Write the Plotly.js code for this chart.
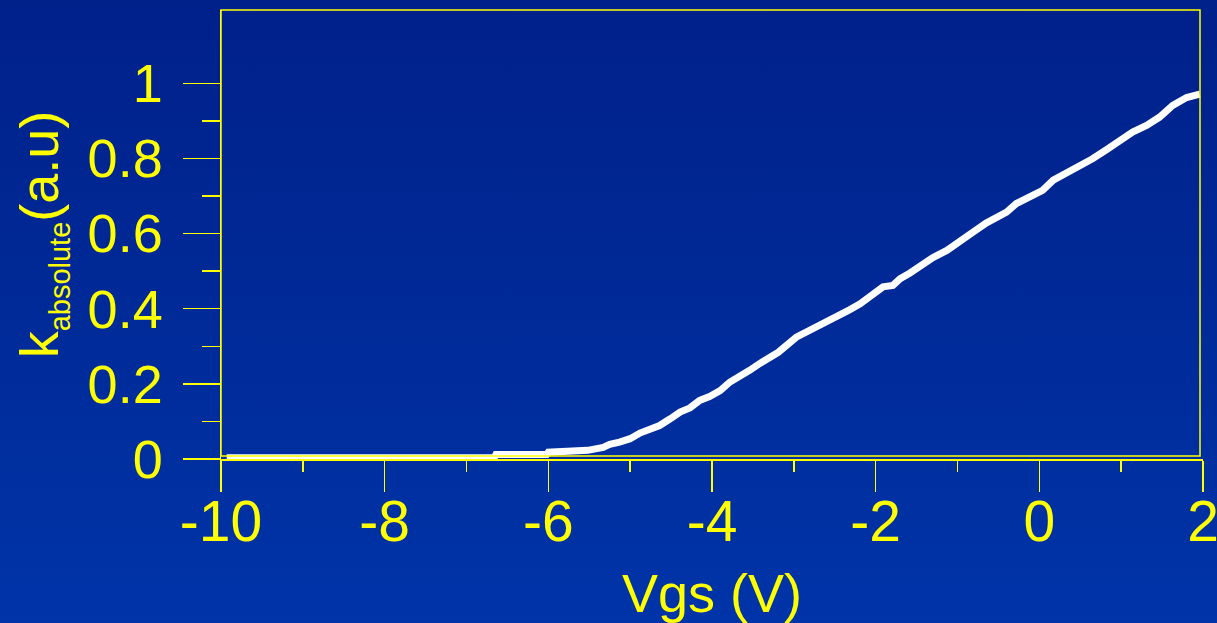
<!DOCTYPE html>
<html>
<head>
<meta charset="utf-8">
<script src="https://cdn.plot.ly/plotly-3.0.1.min.js"></script>
<style>
  html, body { margin: 0; padding: 0; width: 1217px; height: 623px; overflow: hidden;
    background: linear-gradient(to bottom, #00208a 0%, #002a98 50%, #0034a8 100%); }
  #chart { width: 1217px; height: 623px; }
</style>
</head>
<body>
<div id="chart"></div>
<script>
// Vgs (V)
const vgs = [-9.93, -6.66, -6.64, -6.02, -6.00, -5.71, -5.52, -5.33, -5.25, -5.13,
  -5.00, -4.88, -4.76, -4.64, -4.51, -4.39, -4.27, -4.15, -4.03, -3.90,
  -3.78, -3.66, -3.54, -3.41, -3.29, -3.19, -2.97, -2.80, -2.65, -2.48,
  -2.32, -2.19, -2.07, -1.91, -1.79, -1.70, -1.58, -1.46, -1.30, -1.13,
  -0.97, -0.81, -0.65, -0.51, -0.40, -0.28, -0.12, 0.04, 0.17, 0.33,
  0.49, 0.65, 0.82, 0.98, 1.14, 1.31, 1.47, 1.63, 1.80, 1.96];
// k absolute (a.u)
const kAbs = [0.003, 0.003, 0.012, 0.012, 0.018, 0.020, 0.023, 0.031, 0.039, 0.045,
  0.054, 0.069, 0.078, 0.089, 0.107, 0.125, 0.136, 0.156, 0.166, 0.182,
  0.205, 0.218, 0.236, 0.255, 0.271, 0.284, 0.324, 0.342, 0.358, 0.378,
  0.397, 0.413, 0.431, 0.458, 0.462, 0.480, 0.495, 0.515, 0.536, 0.555,
  0.577, 0.604, 0.628, 0.644, 0.657, 0.680, 0.699, 0.715, 0.742, 0.761,
  0.777, 0.799, 0.823, 0.848, 0.870, 0.888, 0.910, 0.941, 0.962, 0.971];

const xTickVals = [-10, -8, -6, -4, -2, 0, 2];
const xTickText = ['-10', '-8', '-6', '-4', '-2', '0', '2'];
const xMinorVals = [-9, -7, -5, -3, -1, 1];
const yTickVals = [0, 0.2, 0.4, 0.6, 0.8, 1];
const yTickText = ['0', '0.2', '0.4', '0.6', '0.8', '1'];
const yMinorVals = [0.1, 0.3, 0.5, 0.7, 0.9];

const YEL = '#ffff00';
const FONT = 'Liberation Sans, Arial, sans-serif';

const trace = {
  x: vgs, y: kAbs, type: 'scatter', mode: 'lines',
  line: { color: '#ffffff', width: 7 },
  hoverinfo: 'skip', showlegend: false
};

const layout = {
  width: 1217, height: 623,
  paper_bgcolor: 'rgba(0,0,0,0)', plot_bgcolor: 'rgba(0,0,0,0)',
  margin: { l: 221, r: 14, t: 10, b: 164 },
  font: { family: FONT, color: YEL },
  showlegend: false,
  xaxis: {
    range: [-10, 2.0001], showgrid: false, zeroline: false,
    showline: true, linecolor: YEL, linewidth: 1.5,
    ticks: 'outside', ticklen: 31, tickwidth: 1.5, tickcolor: YEL,
    tickvals: xTickVals, ticktext: xTickText,
    ticklabeloverflow: 'allow', ticklabelstandoff: -19,
    tickfont: { family: FONT, size: 57, color: YEL },
    minor: { tickvals: xMinorVals, ticks: 'outside', ticklen: 11, tickwidth: 1.5, tickcolor: YEL, showgrid: false },
    title: { text: 'Vgs (V)', font: { family: FONT, size: 54, color: YEL }, standoff: 24 }
  },
  yaxis: {
    range: [0, 1.195], showgrid: false, zeroline: false,
    showline: true, linecolor: YEL, linewidth: 1.5,
    ticks: 'outside', ticklen: 37, tickwidth: 1.5, tickcolor: YEL,
    tickvals: yTickVals, ticktext: yTickText,
    ticklabelstandoff: 9,
    tickfont: { family: FONT, size: 54, color: YEL },
    minor: { tickvals: yMinorVals, ticks: 'outside', ticklen: 18, tickwidth: 1.5, tickcolor: YEL, showgrid: false },
    title: { text: 'k<sub><span style="font-size:29px">absolute</span></sub>(a.u)',
             font: { family: FONT, size: 54, color: YEL }, standoff: 11 }
  },
  shapes: [{
    type: 'rect', xref: 'paper', yref: 'paper',
    x0: 0, x1: 0.99695, y0: 0.0067, y1: 1,
    line: { color: YEL, width: 1.5 }, layer: 'above'
  }]
};

Plotly.newPlot('chart', [trace], layout, { staticPlot: true, displayModeBar: false });
</script>
</body>
</html>
